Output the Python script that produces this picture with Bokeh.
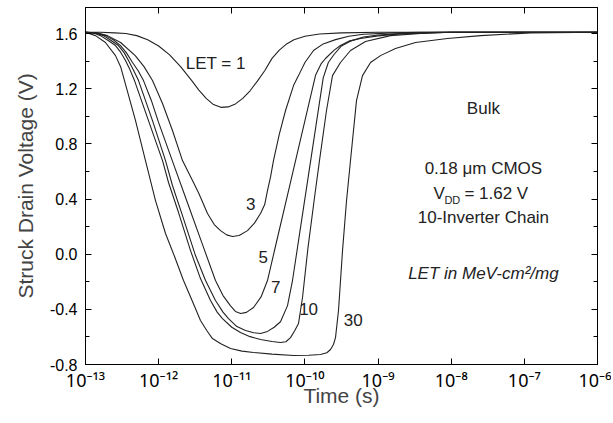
import numpy as np
from bokeh.plotting import figure
from bokeh.models import (LinearAxis, LogAxis, FixedTicker, SingleIntervalTicker,
                          PrintfTickFormatter, Label, Range1d)
from bokeh.embed import file_html
from bokeh.resources import INLINE

# ---------------- data ----------------
x_tick_exp = [-13, -12, -11, -10, -9, -8, -7, -6]
x_tick_labels = ["10⁻¹³", "10⁻¹²", "10⁻¹¹", "10⁻¹⁰", "10⁻⁹", "10⁻⁸", "10⁻⁷", "10⁻⁶"]
y_tick_values = [-0.8, -0.4, 0.0, 0.4, 0.8, 1.2, 1.6]

# log10(time in s) and struck drain voltage (V) for each LET (MeV-cm2/mg)
let1_logt = [-13.0, -12.8, -12.6, -12.45, -12.3, -12.15, -12.0, -11.85, -11.7, -11.55, -11.45,
             -11.35, -11.25, -11.15, -11.05, -10.95, -10.85, -10.75, -10.65, -10.55, -10.45,
             -10.35, -10.25, -10.15, -10.0, -9.8, -9.5, -9.0, -6.0]
let1_v = [1.61, 1.61, 1.605, 1.60, 1.585, 1.555, 1.51, 1.445, 1.36, 1.26, 1.19,
          1.13, 1.085, 1.065, 1.068, 1.09, 1.13, 1.185, 1.255, 1.33, 1.42,
          1.48, 1.525, 1.555, 1.58, 1.597, 1.605, 1.61, 1.61]

let3_logt = [-13.0, -12.85, -12.7, -12.52, -12.32, -12.2, -12.084, -11.947, -11.811, -11.674,
             -11.537, -11.45, -11.332, -11.24, -11.154, -11.07, -10.99, -10.9, -10.785, -10.69,
             -10.607, -10.55, -10.512, -10.47, -10.43, -10.35, -10.265, -10.156, -10.088, -10.0,
             -9.883, -9.75, -9.582, -9.4, -9.2, -8.8, -8.42, -6.0]
let3_v = [1.61, 1.605, 1.585, 1.535, 1.44, 1.36, 1.259, 1.093, 0.897, 0.679,
          0.534, 0.44, 0.295, 0.215, 0.171, 0.14, 0.128, 0.135, 0.171, 0.225,
          0.295, 0.36, 0.461, 0.56, 0.679, 0.87, 1.042, 1.223, 1.295, 1.39,
          1.477, 1.525, 1.556, 1.58, 1.595, 1.605, 1.61, 1.61]

let5_logt = [-13.0, -12.85, -12.727, -12.62, -12.521, -12.44, -12.357, -12.28, -12.207, -12.1,
             -12.0, -11.8, -11.6, -11.4, -11.223, -11.12, -11.017, -10.95, -10.88, -10.8,
             -10.703, -10.6, -10.512, -10.4, -10.2, -10.0, -9.855, -9.78, -9.719, -9.6,
             -9.514, -9.4, -9.24, -9.0, -8.7, -8.3, -8.0, -6.0]
let5_v = [1.61, 1.605, 1.585, 1.555, 1.513, 1.46, 1.39, 1.33, 1.259, 1.115,
          0.954, 0.659, 0.364, 0.069, -0.191, -0.30, -0.375, -0.415, -0.43, -0.422,
          -0.387, -0.31, -0.191, 0.063, 0.516, 0.969, 1.297, 1.38, 1.419, 1.48,
          1.513, 1.545, 1.564, 1.583, 1.598, 1.605, 1.61, 1.61]

let7_logt = [-13.0, -12.85, -12.754, -12.65, -12.549, -12.47, -12.412, -12.34, -12.275, -12.084,
             -11.906, -11.811, -11.674, -11.496, -11.359, -11.223, -11.12, -11.045, -10.93,
             -10.812, -10.7, -10.607, -10.512, -10.42, -10.334, -10.238, -10.17, -10.06, -9.95,
             -9.85, -9.75, -9.68, -9.6, -9.5, -9.38, -9.2, -9.0, -8.6, -8.15, -6.0]
let7_v = [1.61, 1.603, 1.585, 1.55, 1.513, 1.46, 1.404, 1.33, 1.259, 0.969,
          0.679, 0.498, 0.280, -0.010, -0.191, -0.336, -0.42, -0.467, -0.525,
          -0.554, -0.57, -0.575, -0.56, -0.53, -0.49, -0.373, -0.191, 0.194, 0.579,
          0.929, 1.279, 1.39, 1.45, 1.51, 1.545, 1.575, 1.59, 1.603, 1.61, 1.61]

let10_logt = [-13.0, -12.88, -12.795, -12.69, -12.59, -12.52, -12.453, -12.39, -12.33, -12.139,
              -11.947, -11.865, -11.728, -11.564, -11.428, -11.291, -11.2, -11.127, -11.0,
              -10.881, -10.75, -10.607, -10.45, -10.334, -10.26, -10.197, -10.14, -10.088,
              -10.033, -9.958, -9.869, -9.801, -9.705, -9.623, -9.514, -9.377, -9.172, -8.83,
              -8.42, -8.01, -6.0]
let10_v = [1.61, 1.603, 1.585, 1.55, 1.513, 1.465, 1.404, 1.335, 1.259, 0.969,
           0.679, 0.520, 0.302, 0.026, -0.177, -0.336, -0.42, -0.467, -0.53,
           -0.568, -0.598, -0.619, -0.633, -0.641, -0.635, -0.605, -0.555, -0.503,
           -0.314, 0.048, 0.411, 0.679, 1.042, 1.295, 1.390, 1.477, 1.542, 1.585,
           1.60, 1.61, 1.61]

let30_logt = [-13.0, -12.863, -12.727, -12.59, -12.52, -12.467, -12.316, -12.18, -12.043, -11.906,
              -11.78, -11.66, -11.54, -11.428, -11.34, -11.264, -11.15, -11.017, -10.86, -10.703,
              -10.45, -10.156, -9.95, -9.787, -9.70, -9.65, -9.61, -9.582, -9.541, -9.486,
              -9.431, -9.377, -9.295, -9.213, -9.103, -8.967, -8.762, -8.488, -8.051, -7.599,
              -6.916, -6.0]
let30_v = [1.61, 1.585, 1.535, 1.44, 1.36, 1.259, 0.969, 0.679, 0.389, 0.150,
           -0.02, -0.191, -0.34, -0.481, -0.555, -0.612, -0.65, -0.684, -0.703, -0.713,
           -0.725, -0.735, -0.733, -0.728, -0.715, -0.691, -0.655, -0.605, -0.408, 0.026,
           0.389, 0.679, 1.114, 1.295, 1.390, 1.440, 1.491, 1.535, 1.564, 1.585,
           1.605, 1.61]

curve_labels = ["LET = 1", "3", "5", "7", "10", "30"]
curve_label_logt = [-11.22, -10.74, -10.57, -10.40, -9.95, -9.34]
curve_label_v = [1.382, 0.367, -0.024, -0.235, -0.394, -0.48]

# ---------------- figure ----------------
FONT = "Liberation Sans"
p = figure(frame_width=512, frame_height=357, x_axis_type="log",
           x_range=Range1d(1e-13, 1e-6), y_range=Range1d(-0.8, 1.789),
           output_backend="svg", toolbar_location=None,
           min_border_left=85, min_border_right=14, min_border_top=7, min_border_bottom=58)
p.background_fill_color = "white"
p.border_fill_color = "white"
p.outline_line_color = "black"
p.outline_line_width = 1
p.xgrid.visible = False
p.ygrid.visible = False

x_ticks = [10.0 ** e for e in x_tick_exp]

def style_axis(ax, major_len=6, minor_len=0):
    ax.axis_line_color = "black"
    ax.major_tick_line_color = "black"
    ax.minor_tick_line_color = "black"
    ax.major_tick_in = major_len
    ax.major_tick_out = 0
    ax.minor_tick_in = minor_len
    ax.minor_tick_out = 0

# bottom axis
xa = p.xaxis[0]
xa.ticker = FixedTicker(ticks=x_ticks, minor_ticks=[])
xa.major_label_overrides = {t: lab for t, lab in zip(x_ticks, x_tick_labels)}
style_axis(xa)
xa.major_label_text_font = "Noto Sans"
xa.major_label_text_font_size = "18px"
xa.major_label_text_color = "black"
xa.major_label_standoff = 3
xa.axis_label = "Time (s)"
xa.axis_label_text_font = FONT
xa.axis_label_text_font_style = "normal"
xa.axis_label_text_font_size = "21px"
xa.axis_label_standoff = -11

# left axis
ya = p.yaxis[0]
ya.ticker = SingleIntervalTicker(interval=0.4, num_minor_ticks=2)
ya.formatter = PrintfTickFormatter(format="%.1f")
style_axis(ya, 6, 4)
ya.major_label_text_font = FONT
ya.major_label_text_font_size = "16px"
ya.major_label_text_color = "black"
ya.major_label_standoff = 8
ya.axis_label = "Struck Drain Voltage (V)"
ya.axis_label_text_font = FONT
ya.axis_label_text_font_style = "normal"
ya.axis_label_text_font_size = "21px"
ya.axis_label_standoff = 10

# top and right axes (ticks only)
top = LogAxis(ticker=FixedTicker(ticks=x_ticks, minor_ticks=[]))
style_axis(top)
top.major_label_text_font_size = "1px"
top.major_label_text_alpha = 0
top.major_label_standoff = 0
p.add_layout(top, "above")

right = LinearAxis(ticker=SingleIntervalTicker(interval=0.4, num_minor_ticks=2))
style_axis(right, 6, 4)
right.major_label_text_font_size = "1px"
right.major_label_text_alpha = 0
right.major_label_standoff = 0
p.add_layout(right, "right")

# curves
for lt, v in [(let1_logt, let1_v), (let3_logt, let3_v), (let5_logt, let5_v),
              (let7_logt, let7_v), (let10_logt, let10_v), (let30_logt, let30_v)]:
    p.line(10.0 ** np.array(lt), v, line_color="#222222", line_width=1.1)

# curve labels
for txt, lt, v in zip(curve_labels, curve_label_logt, curve_label_v):
    p.add_layout(Label(x=10.0 ** lt, y=v, text=txt, text_font=FONT, text_font_size="17px",
                       text_align="center", text_baseline="middle", text_color="#222222"))

# annotation block
blk_logt = -7.56
def blk(text, v, dx=0, size="17px", style="normal", align="center"):
    p.add_layout(Label(x=10.0 ** blk_logt, y=v, x_offset=dx, text=text, text_font=FONT,
                       text_font_size=size, text_font_style=style, text_align=align,
                       text_baseline="middle", text_color="#222222"))

blk("Bulk", 1.056)
blk("0.18 μm CMOS", 0.621)
blk("V", 0.44, dx=-50, align="left")
p.add_layout(Label(x=10.0 ** blk_logt, y=0.44, x_offset=-39, y_offset=-6, text="DD",
                   text_font=FONT, text_font_size="11px", text_align="left",
                   text_baseline="middle", text_color="#222222"))
blk("= 1.62 V", 0.44, dx=-19, align="left")
blk("10-Inverter Chain", 0.266)
blk("LET in MeV-cm²/mg", -0.14, style="italic")

open("out.html", "w").write(file_html(p, INLINE))
